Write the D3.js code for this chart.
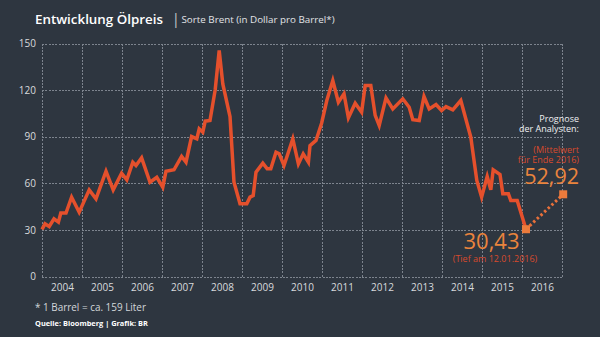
<!DOCTYPE html>
<html><head><meta charset="utf-8">
<script src="https://cdn.jsdelivr.net/npm/d3@7"></script>
<style>
html,body{margin:0;padding:0;background:#2e3640;}
svg{display:block;font-family:"Open Sans",sans-serif;}
</style></head>
<body>
<svg id="chart" width="600" height="337"></svg>
<script>
// Brent price (USD/barrel), decimal year
const years = [2004.0,2004.075,2004.18,2004.3,2004.41,2004.47,2004.6,2004.74,2004.93,
  2005.18,2005.35,2005.6,2005.78,2005.99,
  2006.12,2006.27,2006.35,2006.49,2006.7,2006.87,
  2007.02,2007.1,2007.3,2007.49,2007.6,2007.74,2007.87,2007.93,
  2008.02,2008.08,2008.2,2008.33,2008.43,2008.52,2008.7,2008.8,2008.95,
  2009.12,2009.2,2009.28,2009.35,2009.52,2009.63,2009.72,2009.85,2009.93,
  2010.05,2010.27,2010.41,2010.53,2010.66,2010.7,2010.85,2010.99,
  2011.12,2011.27,2011.41,2011.55,2011.66,2011.83,2011.99,
  2012.08,2012.22,2012.33,2012.43,2012.6,2012.77,
  2013.02,2013.18,2013.27,2013.43,2013.55,2013.68,2013.85,2013.99,
  2014.1,2014.27,2014.47,2014.72,2014.87,2014.99,
  2015.13,2015.22,2015.28,2015.45,2015.52,2015.66,2015.72,2015.88,
  2016.1];
const prices = [30.3,33.9,32.2,37.1,35.0,40.8,40.8,51.1,41.4,
  55.8,50.0,67.8,55.8,66.5,
  62.2,73.6,71.5,76.4,60.7,63.9,
  57.5,67.8,68.7,77.3,73.6,90.1,88.6,95.1,
  92.9,100.0,100.4,120.2,145.5,124.0,103.0,60.7,46.8,
  46.8,51.1,52.1,67.2,73.0,69.3,69.3,80.0,79.0,
  71.5,88.6,72.5,79.0,73.6,84.3,87.6,98.7,
  113.3,126.2,112.2,117.6,102.2,111.6,105.8,
  123.0,123.0,103.7,97.2,115.0,107.9,
  114.4,109.0,100.9,100.4,115.9,107.9,110.7,106.9,
  109.4,107.3,113.3,89.7,61.8,51.1,
  64.4,55.8,68.7,65.7,53.2,53.2,48.9,48.9,
  30.43];
const forecastYears = [2016.1, 2017.03];
const forecastValues = [30.43, 52.92];
const yTicks = [0,30,60,90,120,150];
const xLabels = [2004,2005,2006,2007,2008,2009,2010,2011,2012,2013,2014,2015,2016];
const gridYears = [2004,2005,2006,2007,2008,2009,2010,2011,2012,2013,2014,2015,2016,2017];

const svg = d3.select("#chart");
const x = d3.scaleLinear().domain([2004, 2017]).range([42, 562]);
const y = d3.scaleLinear().domain([0, 150]).range([276.5, 43.5]);

function fit(sel, w){
  const n = sel.node(); const len = n.getComputedTextLength();
  const fs = parseFloat(sel.attr("font-size"));
  if (len > 0) sel.attr("font-size", (fs * w / len).toFixed(2));
  return sel;
}

// background
svg.append("rect").attr("width",600).attr("height",337).attr("fill","#2e3640");

// grid
const grid = svg.append("g").attr("stroke","#7d848e").attr("stroke-width",1)
  .attr("stroke-dasharray","2,1.3").attr("shape-rendering","crispEdges");
grid.selectAll("line.h").data(yTicks).join("line").attr("class","h")
  .attr("x1",x(2004)).attr("x2",x(2017)+1).attr("y1",d=>Math.round(y(d))+0.5).attr("y2",d=>Math.round(y(d))+0.5);
grid.selectAll("line.v").data(gridYears).join("line").attr("class","v")
  .attr("x1",d=>Math.round(x(d))+0.5).attr("x2",d=>Math.round(x(d))+0.5).attr("y1",y(150)).attr("y2",y(0));

// y axis labels
const yAxis = d3.axisLeft(y).tickValues(yTicks).tickSize(0).tickPadding(6);
const gy = svg.append("g").attr("transform",`translate(${x(2004)},0)`).call(yAxis);
gy.select(".domain").remove();
gy.selectAll("text").attr("fill","#d8dadd").attr("font-size",10).attr("font-family","Open Sans");

// x labels
const xAxis = d3.axisBottom(x).tickValues(xLabels.map(d=>d+0.5)).tickFormat(d=>String(Math.floor(d))).tickSize(0).tickPadding(7);
const gx = svg.append("g").attr("transform",`translate(0,${y(0)})`).call(xAxis);
gx.select(".domain").remove();
gx.selectAll("text").attr("fill","#d8dadd").attr("font-size",10).attr("font-family","Open Sans");

// line
const line = d3.line().x((d,i)=>x(years[i])).y(d=>y(d)).curve(d3.curveLinear);
svg.append("path").datum(prices).attr("d",line).attr("fill","none")
  .attr("stroke","#e5502c").attr("stroke-width",3.5).attr("stroke-linejoin","miter").attr("stroke-miterlimit",4);

// forecast
const fl = d3.line().x((d,i)=>x(forecastYears[i])).y(d=>y(d));
svg.append("path").datum(forecastValues).attr("d",fl).attr("fill","none")
  .attr("stroke","#e8703a").attr("stroke-width",3).attr("stroke-dasharray","2.5,2.5");
svg.selectAll("rect.m").data(forecastValues).join("rect").attr("class","m")
  .attr("x",(d,i)=>x(forecastYears[i])-4).attr("y",d=>y(d)-4).attr("width",8).attr("height",8)
  .attr("fill","#ec7b3c");

// titles
fit(svg.append("text").attr("x",35).attr("y",23.5).attr("fill","#ffffff").attr("font-size",14.5)
  .attr("font-weight",600).text("Entwicklung Ölpreis"), 128);
svg.append("text").attr("x",172).attr("y",23.5).attr("fill","#c9ccd0").attr("font-size",14).text("|");
fit(svg.append("text").attr("x",181.5).attr("y",22.7).attr("fill","#e2e4e7").attr("font-size",10.8)
  .text("Sorte Brent (in Dollar pro Barrel*)"), 153);

// annotations (multi-line blocks as one text with tspans)
function block(xp, yp, lines, color, size, anchor){
  const t = svg.append("text").attr("x",xp).attr("y",yp).attr("fill",color)
    .attr("font-size",size).attr("text-anchor",anchor);
  lines.forEach((l,i)=>t.append("tspan").attr("x",xp).attr("dy",i===0?0:10).text(l));
  return t;
}
block(579, 121.7, ["Prognose","der Analysten:"], "#eef0f2", 9, "end");
block(579, 153.3, ["(Mittelwert","für Ende 2016)"], "#d84a2d", 9, "end");
svg.append("text").attr("x",579).attr("y",183.5).attr("text-anchor","end").attr("fill","#ea843d").attr("font-size",21.5).attr("font-weight",500).text("52,92");
svg.append("text").attr("x",491.5).attr("y",249.2).attr("text-anchor","middle").attr("fill","#ea843d").attr("font-size",22).attr("font-weight",500).text("30,43");
svg.append("text").attr("x",495).attr("y",261.7).attr("text-anchor","middle").attr("fill","#d84a2d").attr("font-size",9).text("(Tief am 12.01.2016)");

// footer
fit(svg.append("text").attr("x",35).attr("y",311.3).attr("fill","#d3d6da").attr("font-size",10.3).text("* 1 Barrel = ca. 159 Liter"), 111);
fit(svg.append("text").attr("x",35).attr("y",326).attr("fill","#ffffff").attr("font-size",7.5).attr("font-weight",700).text("Quelle: Bloomberg | Grafik: BR"), 113);
</script>
</body></html>
